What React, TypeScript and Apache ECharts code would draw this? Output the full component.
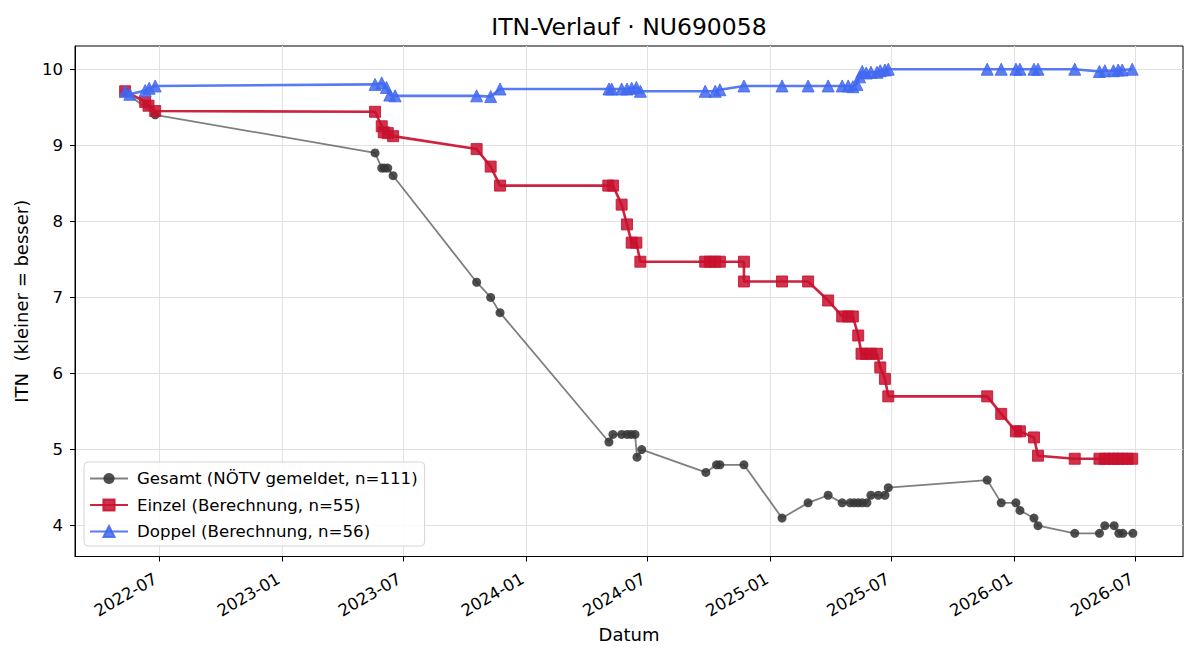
import { useEffect, useRef } from "react";
import * as echarts from "echarts";

// ---- data -------------------------------------------------------------

const chartTitle = "ITN-Verlauf · NU690058";

const gesamtDates = [
  "2022-05-11", "2022-06-25", "2023-05-20", "2023-05-30", "2023-06-03", "2023-06-08",
  "2023-06-16", "2023-10-19", "2023-11-09", "2023-11-23", "2024-05-04", "2024-05-10",
  "2024-05-23", "2024-05-31", "2024-06-06", "2024-06-12", "2024-06-15", "2024-06-22",
  "2024-09-26", "2024-10-12", "2024-10-17", "2024-11-22", "2025-01-18", "2025-02-26",
  "2025-03-28", "2025-04-18", "2025-04-30", "2025-05-06", "2025-05-12", "2025-05-18",
  "2025-05-25", "2025-05-31", "2025-06-11", "2025-06-21", "2025-06-26", "2025-11-21",
  "2025-12-12", "2026-01-03", "2026-01-09", "2026-01-30", "2026-02-05", "2026-04-01",
  "2026-05-08", "2026-05-16", "2026-05-30", "2026-06-06", "2026-06-12", "2026-06-27",
];
const gesamtValues = [
  9.7, 9.4, 8.9, 8.7, 8.7, 8.7,
  8.6, 7.2, 7.0, 6.8, 5.1, 5.2,
  5.2, 5.2, 5.2, 5.2, 4.9, 5.0,
  4.7, 4.8, 4.8, 4.8, 4.1, 4.3,
  4.4, 4.3, 4.3, 4.3, 4.3, 4.3,
  4.3, 4.4, 4.4, 4.4, 4.5, 4.6,
  4.3, 4.3, 4.2, 4.1, 4.0, 3.9,
  3.9, 4.0, 4.0, 3.9, 3.9, 3.9,
];

const einzelDates = [
  "2022-05-11", "2022-06-10", "2022-06-15", "2022-06-25", "2023-05-20", "2023-05-30",
  "2023-06-02", "2023-06-08", "2023-06-16", "2023-10-19", "2023-11-09", "2023-11-23",
  "2024-05-03", "2024-05-10", "2024-05-23", "2024-05-31", "2024-06-07", "2024-06-14",
  "2024-06-20", "2024-09-25", "2024-10-02", "2024-10-10", "2024-10-17", "2024-11-22",
  "2024-11-22", "2025-01-18", "2025-02-26", "2025-03-28", "2025-04-18", "2025-04-27",
  "2025-05-04", "2025-05-12", "2025-05-17", "2025-05-24", "2025-05-31", "2025-06-09",
  "2025-06-14", "2025-06-21", "2025-06-26", "2025-11-21", "2025-12-12", "2026-01-03",
  "2026-01-09", "2026-01-30", "2026-02-05", "2026-04-01", "2026-05-08", "2026-05-16",
  "2026-05-23", "2026-05-29", "2026-06-05", "2026-06-11", "2026-06-19", "2026-06-26",
];
const einzelValues = [
  9.71, 9.57, 9.52, 9.45, 9.44, 9.25,
  9.17, 9.16, 9.12, 8.95, 8.72, 8.47,
  8.47, 8.47, 8.22, 7.96, 7.72, 7.72,
  7.47, 7.47, 7.47, 7.47, 7.47, 7.47,
  7.21, 7.21, 7.21, 6.96, 6.75, 6.75,
  6.75, 6.5, 6.26, 6.26, 6.26, 6.26,
  6.08, 5.93, 5.7, 5.7, 5.47, 5.24,
  5.24, 5.16, 4.92, 4.88, 4.88, 4.88,
  4.88, 4.88, 4.88, 4.88, 4.88, 4.88,
];

const doppelDates = [
  "2022-05-11", "2022-05-18", "2022-06-10", "2022-06-16", "2022-06-25", "2023-05-20",
  "2023-05-30", "2023-06-06", "2023-06-11", "2023-06-19", "2023-10-19", "2023-11-09",
  "2023-11-23", "2024-05-04", "2024-05-08", "2024-05-23", "2024-05-31", "2024-06-07",
  "2024-06-14", "2024-06-20", "2024-09-25", "2024-10-10", "2024-10-17", "2024-11-22",
  "2025-01-18", "2025-02-26", "2025-03-28", "2025-04-18", "2025-04-27", "2025-05-04",
  "2025-05-10", "2025-05-14", "2025-05-18", "2025-05-24", "2025-05-31", "2025-06-09",
  "2025-06-14", "2025-06-21", "2025-06-26", "2025-11-21", "2025-12-12", "2026-01-03",
  "2026-01-09", "2026-01-30", "2026-02-05", "2026-04-01", "2026-05-08", "2026-05-16",
  "2026-05-29", "2026-06-05", "2026-06-11", "2026-06-26",
];
const doppelValues = [
  9.71, 9.67, 9.72, 9.75, 9.78, 9.8,
  9.82, 9.76, 9.66, 9.65, 9.65, 9.64,
  9.74, 9.74, 9.74, 9.74, 9.74, 9.75,
  9.76, 9.71, 9.71, 9.71, 9.73, 9.78,
  9.78, 9.78, 9.78, 9.78, 9.78, 9.77,
  9.8, 9.9, 9.97, 9.95, 9.96, 9.96,
  9.98, 9.99, 10.0, 10.0, 10.0, 10.0,
  10.0, 10.0, 10.0, 10.0, 9.97, 9.98,
  9.98, 9.99, 9.99, 10.0,
];

const seriesNames = [
  "Gesamt (NÖTV gemeldet, n=111)",
  "Einzel (Berechnung, n=55)",
  "Doppel (Berechnung, n=56)",
];

const xTickDates = [
  "2022-07-01", "2023-01-01", "2023-07-01", "2024-01-01", "2024-07-01",
  "2025-01-01", "2025-07-01", "2026-01-01", "2026-07-01",
];
const yTickValues = [4, 5, 6, 7, 8, 9, 10];

const xRange = ["2022-02-25", "2026-09-10"];
const yRange = [3.595, 10.305];

// ---- helpers ----------------------------------------------------------

const FONT = "'DejaVu Sans', 'Liberation Sans', sans-serif";
const toTs = (d: string) => Date.parse(d + "T00:00:00Z");
const pairs = (dates: string[], values: number[]) =>
  dates.map((d, i) => [toTs(d), values[i]]);
const fmtMonth = (v: number) => {
  const d = new Date(v);
  return `${d.getUTCFullYear()}-${String(d.getUTCMonth() + 1).padStart(2, "0")}`;
};

export default function App() {
  const ref = useRef<HTMLDivElement>(null);

  useEffect(() => {
    if (!ref.current) return;
    const chart = echarts.init(ref.current, undefined, { renderer: "svg" });

    const gridLine = { show: true, lineStyle: { color: "#e2e2e2", width: 1 } };
    const xTicks = xTickDates.map(toTs);

    chart.setOption({
      animation: false,
      backgroundColor: "#ffffff",
      textStyle: { fontFamily: FONT },
      title: {
        text: chartTitle,
        left: 629,
        top: 15,
        textAlign: "center",
        padding: 0,
        textStyle: { fontFamily: FONT, fontSize: 23.5, fontWeight: "normal", color: "#000" },
      },
      grid: {
        left: 75,
        right: 17,
        top: 46,
        bottom: 103.5,
        show: true,
        borderColor: "#000",
        borderWidth: 1,
        backgroundColor: "transparent",
      },
      legend: {
        orient: "vertical",
        left: 84,
        top: 462,
        padding: [8, 7, 6, 5],
        itemWidth: 38,
        itemHeight: 14,
        itemGap: 9.5,
        backgroundColor: "rgba(255,255,255,0.85)",
        borderColor: "#d4d4d4",
        borderWidth: 1,
        borderRadius: 4,
        textStyle: { fontFamily: FONT, fontSize: 16.6, color: "#000", padding: [0, 0, 0, 4] },
        data: seriesNames,
      },
      xAxis: {
        type: "value",
        min: toTs(xRange[0]),
        max: toTs(xRange[1]),
        scale: true,
        name: "Datum",
        nameLocation: "middle",
        nameGap: 66,
        nameTextStyle: { fontFamily: FONT, fontSize: 18, color: "#000" },
        axisLine: { show: true, lineStyle: { color: "#000", width: 1 } },
        axisTick: {
          show: true,
          length: 5,
          inside: false,
          customValues: xTicks,
          lineStyle: { color: "#000", width: 1 },
        },
        axisLabel: {
          customValues: xTicks,
          formatter: (v: number) => fmtMonth(v),
          rotate: 30,
          margin: 19,
          fontFamily: FONT,
          fontSize: 16.6,
          color: "#000",
          padding: [0, 4, 0, 0],
        },
        splitLine: gridLine,
      },
      yAxis: {
        type: "value",
        min: yRange[0],
        max: yRange[1],
        name: "ITN  (kleiner = besser)",
        nameLocation: "middle",
        nameGap: 37,
        nameRotate: 90,
        nameTextStyle: { fontFamily: FONT, fontSize: 18, color: "#000" },
        axisLine: { show: true, lineStyle: { color: "#000", width: 1 } },
        axisTick: {
          show: true,
          length: 5,
          inside: false,
          customValues: yTickValues,
          lineStyle: { color: "#000", width: 1 },
        },
        axisLabel: {
          customValues: yTickValues,
          margin: 12,
          fontFamily: FONT,
          fontSize: 16.6,
          color: "#000",
        },
        splitLine: gridLine,
      },
      series: [
        {
          name: seriesNames[0],
          type: "line",
          data: pairs(gesamtDates, gesamtValues),
          symbol: "circle",
          symbolSize: 9,
          showAllSymbol: true,
          lineStyle: { color: "rgba(60,60,60,0.66)", width: 1.8 },
          itemStyle: { color: "rgba(55,55,55,0.88)", borderWidth: 0 },
          z: 2,
        },
        {
          name: seriesNames[1],
          type: "line",
          data: pairs(einzelDates, einzelValues),
          symbol: "rect",
          symbolSize: 11,
          showAllSymbol: true,
          lineStyle: { color: "rgba(200,16,46,0.92)", width: 2.6 },
          itemStyle: {
            color: "rgba(200,16,46,0.85)",
            borderColor: "rgba(200,16,46,0.85)",
            borderWidth: 1,
          },
          z: 3,
        },
        {
          name: seriesNames[2],
          type: "line",
          data: pairs(doppelDates, doppelValues),
          symbol: "triangle",
          symbolSize: 12,
          showAllSymbol: true,
          lineStyle: { color: "rgba(65,105,240,0.88)", width: 2.6 },
          itemStyle: {
            color: "rgba(65,105,240,0.85)",
            borderColor: "rgba(65,105,240,0.85)",
            borderWidth: 1,
          },
          z: 4,
        },
      ],
    });

    return () => chart.dispose();
  }, []);

  return (
    <div
      ref={ref}
      style={{ position: "absolute", left: 0, top: 0, width: 1200, height: 660 }}
    />
  );
}
